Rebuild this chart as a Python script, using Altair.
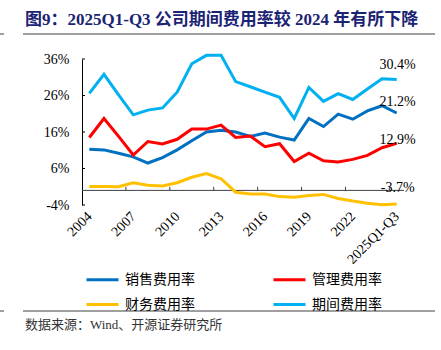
import altair as alt
import pandas as pd

categories = ["2004", "2005", "2006", "2007", "2008", "2009", "2010", "2011", "2012",
              "2013", "2014", "2015", "2016", "2017", "2018", "2019", "2020", "2021",
              "2022", "2023", "2024", "2025Q1-Q3"]
series_names = ["销售费用率", "管理费用率", "财务费用率", "期间费用率"]
series_colors = ["#0070C0", "#FF0000", "#FFC000", "#00B0F0"]

sales = [11.3, 11.1, 10.2, 9.2, 7.5, 9.0, 11.1, 13.6, 16.0, 16.5, 16.0, 14.8, 15.7,
         14.6, 13.8, 19.7, 17.5, 20.9, 19.5, 21.8, 23.2, 21.2]
admin = [14.5, 19.7, 14.8, 9.7, 13.4, 12.7, 14.0, 16.8, 16.8, 17.9, 14.5, 14.9, 12.0,
         12.8, 7.9, 10.2, 8.1, 7.8, 8.5, 9.6, 11.7, 12.9]
finance = [1.1, 1.1, 1.0, 2.1, 1.4, 1.2, 2.1, 3.6, 4.6, 3.2, -0.5, -1.0, -1.0, -1.7,
           -1.9, -1.4, -1.1, -2.2, -2.9, -3.5, -3.9, -3.7]
period = [26.6, 31.8, 26.2, 20.7, 22.0, 22.6, 26.9, 34.7, 37.0, 37.0, 29.8, 28.4, 26.9,
          25.5, 19.7, 28.2, 24.4, 26.5, 24.9, 27.8, 30.6, 30.4]

y_ticks = [-4, 6, 16, 26, 36]
x_label_idx = [0, 3, 6, 9, 12, 15, 18, 21]
end_label_dy = {"期间费用率": -14, "销售费用率": -11, "管理费用率": -3, "财务费用率": -16}

title_text = "图9：2025Q1-Q3 公司期间费用率较 2024 年有所下降"
source_text = "数据来源：Wind、开源证券研究所"

SERIF = "Liberation Serif, Noto Sans CJK SC"

rows = []
for name, vals in zip(series_names, [sales, admin, finance, period]):
    for i, v in enumerate(vals):
        rows.append({"idx": i, "cat": categories[i], "series": name, "value": v})
df = pd.DataFrame(rows)

W, H = 322, 146
xscale = alt.Scale(domain=[-0.5, len(categories) - 0.5], nice=False, zero=False)
yscale = alt.Scale(domain=[-4, 36], nice=False, zero=False)

label_expr = "[" + ",".join("'" + c + "'" for c in categories) + "][datum.value]"

X_AXIS = alt.Axis(values=x_label_idx, labelExpr=label_expr, labelAngle=-45,
                  labelAlign="right", labelBaseline="middle", labelPadding=9,
                  labelFont=SERIF, labelFontSize=14, labelColor="#000000",
                  labelOverlap=False, labelFlush=False, labelLimit=300,
                  domain=False, ticks=False, grid=False, title=None)
Y_AXIS = alt.Axis(values=y_ticks, labelExpr="datum.value + '%'",
                  labelFont=SERIF, labelFontSize=14, labelColor="#000000",
                  labelOverlap=False, labelFlush=False, labelBound=False,
                  labelPadding=13, ticks=False, domain=True, domainColor="#000000",
                  domainWidth=1, grid=False, title=None)


def xq(field):
    return alt.X(field, scale=xscale, axis=X_AXIS, title=None)


def yq(field):
    return alt.Y(field, scale=yscale, axis=Y_AXIS, title=None)


color = alt.Color(
    "series:N",
    scale=alt.Scale(domain=series_names, range=series_colors),
    sort=series_names,
    legend=alt.Legend(
        title=None, orient="none", legendX=3, legendY=203, columns=2,
        direction="horizontal",
        symbolType="stroke", symbolSize=1024, symbolStrokeWidth=3,
        labelFont=SERIF, labelFontSize=14, labelColor="#000000",
        columnPadding=72, rowPadding=-14, labelOffset=5, labelLimit=200,
    ),
)

lines = alt.Chart(df).mark_line(strokeWidth=3, clip=False).encode(
    x=xq("idx:Q"),
    y=yq("value:Q"),
    color=color,
    order="idx:Q",
)

zero_df = pd.DataFrame({"v": [0]})
zero_line = alt.Chart(zero_df).mark_rule(color="#404040", strokeWidth=1).encode(
    y=yq("v:Q")
)

xt_df = pd.DataFrame({"b": [i - 0.5 for i in x_label_idx[1:]], "y0": 0, "y1": 1.0})
x_ticks = alt.Chart(xt_df).mark_rule(color="#404040", strokeWidth=1).encode(
    x=xq("b:Q"),
    y=yq("y0:Q"),
    y2="y1:Q",
)

yt_df = pd.DataFrame({"t": y_ticks})
y_tick_marks = alt.Chart(yt_df).mark_rule(color="#000000", strokeWidth=1).encode(
    y=yq("t:Q"),
    x=alt.value(0), x2=alt.value(3),
)

last = df[df["idx"] == len(categories) - 1]
label_layers = []
for name in series_names:
    sub = last[last["series"] == name].copy()
    sub["lbl"] = sub["value"].map(lambda v: f"{v:.1f}%")
    label_layers.append(
        alt.Chart(sub).mark_text(font=SERIF, fontSize=14, color="#000000", align="center",
                                 baseline="middle", dy=end_label_dy[name], dx=1).encode(
            x=xq("idx:Q"),
            y=yq("value:Q"),
            text="lbl:N",
        )
    )

deco = pd.DataFrame({"title": [title_text], "src": [source_text]})
title_mark = alt.Chart(deco).mark_text(
    font=SERIF, fontSize=17, fontWeight="bold", color="#1B2374",
    align="left", baseline="middle"
).encode(x=alt.value(-57), y=alt.value(-39), text="title:N")

source_mark = alt.Chart(deco).mark_text(
    font=SERIF, fontSize=13, color="#333333", align="left", baseline="middle"
).encode(x=alt.value(-57), y=alt.value(266), text="src:N")

head_rule = alt.Chart(deco).mark_rule(color="#7F7F7F", strokeWidth=1.5).encode(
    x=alt.value(-59), x2=alt.value(353), y=alt.value(-25))
foot_rule = alt.Chart(deco).mark_rule(color="#404040", strokeWidth=1).encode(
    x=alt.value(-59), x2=alt.value(353), y=alt.value(252))
stub1 = alt.Chart(deco).mark_rule(color="#404040", strokeWidth=1).encode(
    x=alt.value(-82), x2=alt.value(-78), y=alt.value(-25))
stub2 = alt.Chart(deco).mark_rule(color="#404040", strokeWidth=1).encode(
    x=alt.value(-82), x2=alt.value(-78), y=alt.value(252))

chart = alt.layer(
    zero_line, x_ticks, y_tick_marks, lines, *label_layers,
    title_mark, source_mark, head_rule, foot_rule, stub1, stub2
).properties(
    width=W, height=H,
    autosize=alt.AutoSizeParams(type="none"),
    padding={"left": 82, "top": 59, "right": 37, "bottom": 145},
    background="#FFFFFF",
).configure_view(stroke=None)

chart.save("out.html", embed_options={"renderer": "svg", "actions": False})
